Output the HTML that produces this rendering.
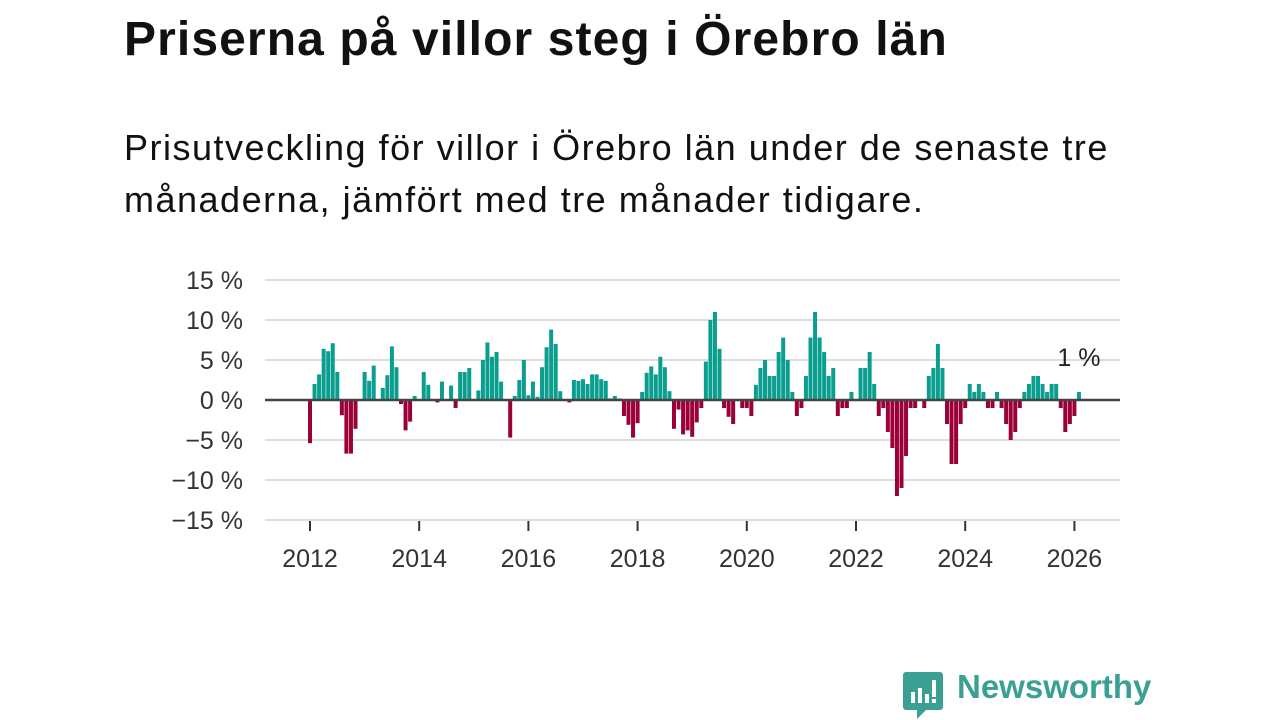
<!DOCTYPE html>
<html><head><meta charset="utf-8">
<style>
html,body{margin:0;padding:0;background:#fff;width:1280px;height:720px;overflow:hidden;font-family:"Liberation Sans","DejaVu Sans",sans-serif;}
#title{position:absolute;left:124px;top:12px;font-size:48px;font-weight:bold;color:#111;margin:0;letter-spacing:1.1px;white-space:nowrap}
#sub{position:absolute;left:124px;top:122px;font-size:36px;line-height:52px;color:#111;margin:0;width:1060px;letter-spacing:1.5px}
svg{position:absolute;left:0;top:0}
#logo-text{position:absolute;left:957px;top:668px;font-size:33px;font-weight:bold;color:#3aa093}
</style></head><body>
<h1 id="title">Priserna på villor steg i Örebro län</h1>
<p id="sub">Prisutveckling för villor i Örebro län under de senaste tre månaderna, jämfört med tre månader tidigare.</p>
<svg id="chart" width="1280" height="720"></svg>
<svg width="1280" height="720" style="pointer-events:none">
<path d="M906 672 h34 a3 3 0 0 1 3 3 v32 a3 3 0 0 1 -3 3 h-14 l-9 9 v-9 h-11 a3 3 0 0 1 -3 -3 v-32 a3 3 0 0 1 3 -3z" fill="#3aa093"/>
<rect x="911" y="692" width="4" height="11" fill="#fff"/><rect x="918" y="688" width="4" height="15" fill="#fff"/><rect x="925" y="694" width="4" height="9" fill="#fff"/><rect x="932" y="680" width="4" height="17" fill="#fff"/><rect x="932" y="699" width="4" height="4" fill="#fff"/>
</svg>
<div id="logo-text">Newsworthy</div>
<script>
const values = [
-5.4,2,3.2,6.4,6.1,7.1,3.5,-1.9,-6.7,-6.7,-3.6,0,
3.5,2.4,4.3,0,1.5,3.1,6.7,4.1,-0.5,-3.8,-2.7,0.5,
0,3.5,1.9,0,-0.3,2.3,0,1.8,-1,3.5,3.5,4.0,
0,1.2,5.0,7.2,5.4,6.0,2.3,0.1,-4.7,0.5,2.5,5.0,
0.6,2.3,0.4,4.1,6.6,8.8,7.0,1.1,0,-0.3,2.5,2.4,
2.6,2.0,3.2,3.2,2.6,2.4,0.2,0.5,0.2,-2.0,-3.1,-4.7,
-2.9,1.0,3.4,4.2,3.2,5.4,4.1,1.1,-3.6,-1.2,-4.3,-3.8,
-4.6,-2.8,-1,4.8,10,11,6.4,-1,-2.1,-3.0,0,-1,
-1,-2,1.9,4.0,5.0,3.0,3.0,6.0,7.8,5.0,1.0,-2.0,
-1,3.0,7.8,11,7.8,6.0,3.0,4.0,-2,-1,-1,1,
0,4,4,6,2,-2,-1,-4,-6,-12,-11,-7,
-1,-1,0,-1,3,4,7,4,-3,-8,-8,-3,
-1,2,1,2,1,-1,-1,1,-1,-3,-5,-4,
-1,1,2,3,3,2,1,2,2,-1,-4,-3,
-2,1];
const startYear = 2012;
const yTicks = [15,10,5,0,-5,-10,-15];
const xTickYears = [2012,2014,2016,2018,2020,2022,2024,2026];
const lastLabel = "1 %";

const svg = document.getElementById('chart');
const NS = 'http://www.w3.org/2000/svg';
function x(t){ return 310 + (t - 2012) * 54.6; }
function y(v){ return 400 - v * 8; }
function mk(tag, attrs){ const e = document.createElementNS(NS, tag); for (const k in attrs) e.setAttribute(k, attrs[k]); svg.appendChild(e); return e; }

yTicks.forEach(v => {
  if (v !== 0) {
    const g = mk('line', {x1:265, x2:1120, y1:y(v), y2:y(v), stroke:'#dddddd', 'stroke-width':2});
    
    
  }
  const t = mk('text', {x:243, y:y(v)+9, 'text-anchor':'end', 'font-size':25, fill:'#333', 'font-family':'Liberation Sans, sans-serif'});
  t.textContent = (v < 0 ? '\u2212' + Math.abs(v) : v) + ' %';
  
  
});
xTickYears.forEach(yr => {
  const tk = mk('line', {x1:x(yr), x2:x(yr), y1:521, y2:531, stroke:'#333', 'stroke-width':2});
  
  
  const t = mk('text', {x:x(yr), y:567, 'text-anchor':'middle', 'font-size':25, fill:'#333', 'font-family':'Liberation Sans, sans-serif'});
  t.textContent = yr;
  
  
});
values.forEach((v, i) => {
  const cx = x(startYear + i / 12);
  const top = Math.min(y(v), y(0)), h = Math.abs(y(v) - y(0));
  const r = mk('rect', {x:cx - 2, y:top, width:4, height:h, fill: v >= 0 ? '#0a9e8f' : '#9b0038'});
  
  
});
const zl = mk('line', {x1:265, x2:1120, y1:y(0), y2:y(0), stroke:'#444', 'stroke-width':2.5});


const lastX = x(startYear + (values.length - 1) / 12);
const lab = mk('text', {x:lastX, y:y(values[values.length-1]) - 26, 'text-anchor':'middle', 'font-size':25, fill:'#222', 'font-family':'Liberation Sans, sans-serif'});
lab.textContent = lastLabel;


</script>
</body></html>
